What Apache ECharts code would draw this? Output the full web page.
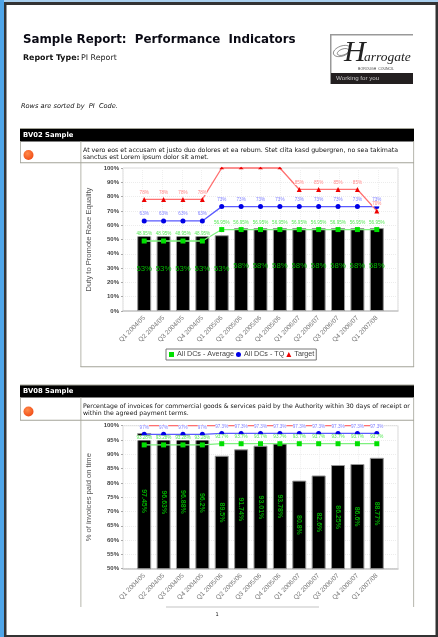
<!DOCTYPE html>
<html>
<head>
<meta charset="utf-8">
<title>Sample Report: Performance Indicators</title>
<style>html,body{margin:0;padding:0;background:#fff}#report{width:438px;height:637px}</style>
<script src="https://cdn.jsdelivr.net/npm/echarts@6/dist/echarts.min.js"></script>
</head>
<body>
<div id="report"></div>
<script>
// Reporting quarters shared by both indicators
var quarters = ['Q1 2004/05','Q2 2004/05','Q3 2004/05','Q4 2004/05','Q1 2005/06','Q2 2005/06','Q3 2005/06','Q4 2005/06','Q1 2006/07','Q2 2006/07','Q3 2006/07','Q4 2006/07','Q1 2007/08'];

// BV02: duty to promote race equality
var bv02Actual  = [53,53,53,53,53,58,58,58,58,58,58,58,58];
var bv02Average = [48.95,48.95,48.95,48.95,56.95,56.95,56.95,56.95,56.95,56.95,56.95,56.95,56.95];
var bv02TopQ    = [63,63,63,63,73,73,73,73,73,73,73,73,73];
var bv02Target  = [78,78,78,78,100,100,100,100,85,85,85,85,70];

// BV08: invoices paid on time
var bv08Actual  = [97.45,96.63,96.88,96.2,89.5,91.74,93.01,93.78,80.8,82.6,86.25,86.6,88.77];
var bv08Average = [93.28,93.28,93.28,93.28,93.7,93.7,93.7,93.7,93.7,93.7,93.7,93.7,93.7];
var bv08TopQ    = [97,97,97,97,97.3,97.3,97.3,97.3,97.3,97.3,97.3,97.3,97.3];
var bv08Target  = [100,100,100,100,100,100,100,100,100,100,100,100,100];

var seriesNames = ['All DCs - Average','All DCs - TQ','Target'];
var font = '"Liberation Sans", Arial, sans-serif';
var verdana = '"DejaVu Sans", Verdana, sans-serif';
var RULE = '#a3a398';

// Plot panel (gridlines, value scale) plus a narrower inner grid holding the bars
function axesFor(gridBg, gridMain, yMin, yMax, yStep, yTitle) {
  return {
    x: [
      {gridIndex: gridBg, type: 'value', min: 0, max: 14, interval: 1,
       axisLine: {show: true, lineStyle: {color: '#c8c8c8', width: 1.5}}, axisTick: {show: false}, axisLabel: {show: false},
       splitLine: {show: true, lineStyle: {color: '#efefef', type: 'dotted', width: 1}}},
      {gridIndex: gridMain, type: 'category', data: quarters, boundaryGap: true,
       axisLine: {show: false}, axisTick: {show: false},
       axisLabel: {interval: 0, rotate: 45, fontSize: 6.5, fontFamily: font, color: '#777', margin: 6}}
    ],
    y: [
      {gridIndex: gridBg, type: 'value', min: yMin, max: yMax, interval: yStep,
       name: yTitle, nameLocation: 'middle', nameGap: 6, nameRotate: 90,
       nameTextStyle: {fontSize: 7.6, fontFamily: font, color: '#555'},
       axisLine: {show: false}, axisTick: {show: true, length: 2, lineStyle: {color: '#aaa'}},
       axisLabel: {formatter: '{value}%', fontSize: 6, fontWeight: 'bold', fontFamily: font, color: '#444', margin: 4},
       splitLine: {show: true, lineStyle: {color: '#ececec', type: 'dotted', width: 1}}},
      {gridIndex: gridMain, type: 'value', min: yMin, max: yMax, interval: yStep, show: false}
    ]
  };
}

function hundredBlank(c) {
  return c.value >= 100 ? '' : c.value + '%';
}

// Points sitting on the top edge of the plot are cut down to a thin dash
function markSize(v) {
  return v >= 100 ? [5, 2.5] : 5;
}

function seriesFor(axisIdx, actual, average, topQ, target, barLabel) {
  function line(name, data, symbol, lineColor, markColor, labelColor) {
    return {
      name: name, type: 'line', xAxisIndex: axisIdx, yAxisIndex: axisIdx, data: data,
      symbol: symbol, symbolSize: markSize, clip: false, z: 5,
      lineStyle: {color: lineColor, width: 1.3},
      itemStyle: {color: markColor},
      label: {show: true, position: 'top', distance: 2, fontSize: 4.6, fontFamily: font,
              color: labelColor, backgroundColor: '#fff', formatter: hundredBlank}
    };
  }
  return [
    {name: 'Actual', type: 'bar', xAxisIndex: axisIdx, yAxisIndex: axisIdx, data: actual, barWidth: 14, z: 3,
     itemStyle: {color: '#000', borderColor: '#999', borderWidth: 1},
     label: barLabel},
    line(seriesNames[0], average, 'rect', '#7df07d', '#00e000', '#55e855'),
    line(seriesNames[1], topQ, 'circle', '#5a5aff', '#0000e6', '#8080ff'),
    line(seriesNames[2], target, 'triangle', '#ff7070', '#ee0000', '#ff8888')
  ];
}

var chartA = axesFor(0, 1, 0, 100, 10, 'Duty to Promote Race Equality');
var chartB = axesFor(2, 3, 50, 100, 5, '% of invoices paid on time');

var seriesA = seriesFor(1, bv02Actual, bv02Average, bv02TopQ, bv02Target,
  {show: true, position: 'inside', offset: [0, -4], fontSize: 7.8, fontFamily: font, color: '#00b800',
   formatter: function (c) { return c.value + '%'; }});
var seriesB = seriesFor(3, bv08Actual, bv08Average, bv08TopQ, bv08Target,
  {show: true, position: 'inside', rotate: -90, fontSize: 7, fontWeight: 'bold', fontFamily: font, color: '#00a800',
   formatter: function (c) { return c.value + '%'; }});

// Page furniture: window frame, headings, table rules, status lamps, council logo
function rect(x, y, w, h, fill) {
  return {type: 'rect', shape: {x: x, y: y, width: w, height: h}, style: {fill: fill}, silent: true};
}
function txt(x, y, s, size, opt) {
  opt = opt || {};
  return {type: 'text', x: x, y: y, silent: true, style: {
    text: s, fill: opt.fill || '#111', textVerticalAlign: 'middle', textAlign: opt.align || 'left',
    font: (opt.style || '') + ' ' + (opt.weight || 'normal') + ' ' + size + 'px ' + (opt.family || verdana)
  }};
}
function lamp(cx, cy) {
  return {type: 'circle', shape: {cx: cx, cy: cy, r: 5}, silent: true, style: {
    fill: {type: 'radial', x: 0.4, y: 0.35, r: 0.7, colorStops: [{offset: 0, color: '#ff8a4a'}, {offset: 1, color: '#f04a14'}]}
  }};
}
function swirl(cx, cy, rx, ry) {
  return {type: 'ellipse', shape: {cx: cx, cy: cy, rx: rx, ry: ry}, rotation: 0.35, originX: cx, originY: cy, silent: true,
    style: {fill: 'none', stroke: '#555', lineWidth: 0.6}};
}

var furniture = [
  rect(0, 0, 438, 3, '#a9cfee'),
  rect(0, 0, 4, 637, '#4fa5e8'),
  rect(4, 2, 434, 3, '#333'),
  rect(4, 2, 2.5, 635, '#333'),
  rect(435.5, 2, 2.5, 635, '#333'),
  rect(4, 635, 434, 2, '#333'),

  txt(23, 40, 'Sample Report:  Performance  Indicators', 11.85, {weight: 'bold', fill: '#0a0a14'}),
  txt(23, 57.5, 'Report Type:', 7.9, {weight: 'bold'}),
  txt(81, 57.5, 'PI Report', 7.9, {fill: '#222'}),
  txt(21, 106, 'Rows are sorted by  PI  Code.', 6.6, {style: 'italic'}),

  // Harrogate logo
  rect(330, 34, 83, 1.5, '#999'),
  rect(330, 34, 1.5, 50, '#999'),
  rect(331, 73, 82, 11, '#231f20'),
  swirl(342, 51, 9, 5),
  swirl(343, 52, 6, 3),
  txt(344, 53, 'H', 30, {style: 'italic', family: '"Liberation Serif", serif', fill: '#222'}),
  txt(364, 57, 'arrogate', 13.5, {style: 'italic', family: '"Liberation Serif", serif', fill: '#222'}),
  txt(376, 69, 'BOROUGH  COUNCIL', 3.5, {family: font, align: 'center', fill: '#444'}),
  txt(336, 78.5, 'Working for you', 6.2, {family: font, fill: '#c8c8c8'}),

  // BV02 table block
  rect(20, 128, 394, 13.5, '#000'),
  rect(20, 128, 394, 1, RULE),
  txt(23, 135, 'BV02 Sample', 6.8, {weight: 'bold', fill: '#fff'}),
  rect(20, 141, 0.8, 22, RULE),
  rect(80.5, 141, 0.8, 226, RULE),
  rect(413.3, 141, 0.8, 226, RULE),
  rect(20, 162.3, 394, 1, RULE),
  rect(80.5, 366.3, 333.6, 1, RULE),
  lamp(28.5, 155),
  txt(83, 150, 'At vero eos et accusam et justo duo dolores et ea rebum. Stet clita kasd gubergren, no sea takimata', 6.25),
  txt(83, 157, 'sanctus est Lorem ipsum dolor sit amet.', 6.25),

  // BV08 table block
  rect(20, 385, 394, 12.5, '#000'),
  rect(20, 384.5, 394, 1, RULE),
  txt(23, 391.5, 'BV08 Sample', 6.8, {weight: 'bold', fill: '#fff'}),
  rect(20, 397, 0.8, 23, RULE),
  rect(80.5, 397, 0.8, 210, RULE),
  rect(413.3, 397, 0.8, 210, RULE),
  rect(20, 419.7, 394, 1, RULE),
  lamp(28.5, 411.5),
  txt(83, 406, 'Percentage of invoices for commercial goods & services paid by the Authority within 30 days of receipt or', 6.18),
  txt(83, 413, 'within the agreed payment terms.', 6.18),

  // Footer
  rect(166, 606.5, 153, 1, '#c4c4c4'),
  txt(217, 615, '1', 5, {align: 'center'})
];

var chart = echarts.init(document.getElementById('report'), null, {renderer: 'canvas'});
chart.setOption({
  animation: false,
  backgroundColor: '#fff',
  graphic: furniture,
  grid: [
    {left: 123, top: 168, width: 275, height: 143, show: true, backgroundColor: '#fff', borderColor: '#d8d8d8', borderWidth: 1},
    {left: 134.5, top: 168, width: 252, height: 143},
    {left: 123, top: 425.7, width: 275, height: 143, show: true, backgroundColor: '#fff', borderColor: '#d8d8d8', borderWidth: 1},
    {left: 134.5, top: 425.7, width: 252, height: 143}
  ],
  xAxis: chartA.x.concat(chartB.x),
  yAxis: chartA.y.concat(chartB.y),
  legend: {
    left: 166, top: 349, orient: 'horizontal', selectedMode: false,
    borderColor: '#777', borderWidth: 1, padding: [2, 2, 2, 3],
    itemWidth: 5, itemHeight: 5, itemGap: 2,
    textStyle: {fontSize: 7.2, fontFamily: font, color: '#444', padding: [0, 0, 0, -2]},
    data: [
      {name: seriesNames[0], icon: 'rect'},
      {name: seriesNames[1], icon: 'circle'},
      {name: seriesNames[2], icon: 'triangle'}
    ]
  },
  series: seriesA.concat(seriesB)
});
</script>
</body>
</html>
